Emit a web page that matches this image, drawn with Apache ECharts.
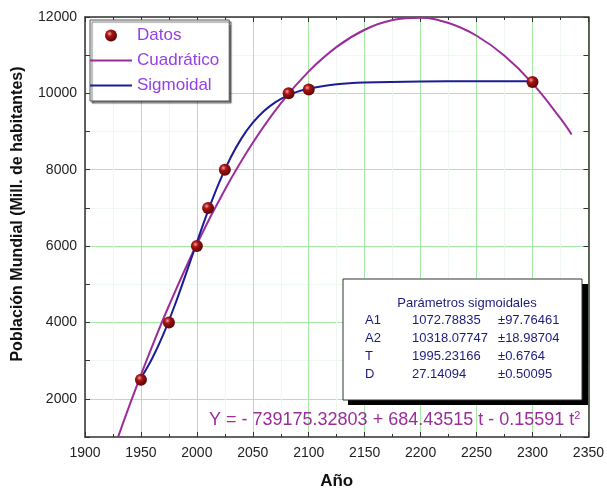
<!DOCTYPE html>
<html><head><meta charset="utf-8">
<script src="https://cdn.jsdelivr.net/npm/echarts@6/dist/echarts.min.js"></script>
<style>html,body{margin:0;padding:0;background:#fff}#c{width:607px;height:495px}</style>
</head><body><div id="c"></div>
<script>
// ---- data ----
const dataYears = [1950, 1975, 2000, 2010, 2025, 2082, 2100, 2300];
const dataPop   = [2500, 4000, 6000, 7000, 8000, 10000, 10100, 10300];

const quadYears = [1925, 1930, 1940, 1950, 1960, 1975, 2000, 2025, 2050, 2075, 2100, 2125, 2150, 2175, 2200, 2225, 2250, 2275, 2300, 2325, 2335];
const quadPop   = [618, 1035, 1846, 2625, 3374, 4438, 6055, 7477, 8705, 9738, 10575, 11218, 11666, 11919, 11978, 11841, 11509, 10983, 10262, 9345, 8924];

const sigYears = [1950, 1960, 1970, 1980, 1990, 2000, 2010, 2020, 2030, 2040, 2050, 2060, 2070, 2080, 2090, 2100, 2125, 2150, 2200, 2250, 2300];
const sigPop   = [2542, 3056, 3689, 4431, 5252, 6100, 6923, 7670, 8308, 8828, 9233, 9539, 9765, 9928, 10045, 10127, 10241, 10287, 10313, 10317, 10318];

const xTickLabels = [1900, 1950, 2000, 2050, 2100, 2150, 2200, 2250, 2300, 2350];
const yTickLabels = [2000, 4000, 6000, 8000, 10000, 12000];

const paramTitle  = 'Parámetros sigmoidales';
const paramNames  = ['A1', 'A2', 'T', 'D'];
const paramValues = ['1072.78835', '10318.07747', '1995.23166', '27.14094'];
const paramErrors = ['±97.76461', '±18.98704', '±0.6764', '±0.50095'];

const equationMain = 'Y = - 739175.32803 + 684.43515 t - 0.15591 t';
const equationSup = '2';

// ---- chart ----
const FONT = '"Liberation Sans", Arial, sans-serif';
const chart = echarts.init(document.getElementById('c'), null, {renderer: 'canvas'});

const sphere = new echarts.graphic.RadialGradient(0.38, 0.35, 0.75, [
  {offset: 0, color: '#f0a0a0'},
  {offset: 0.3, color: '#a81414'},
  {offset: 1, color: '#4a0000'}
]);

const paramGraphics = [
  {type: 'rect', shape: {x: 348, y: 284, width: 240, height: 121}, style: {fill: '#000'}, z: 100},
  {type: 'rect', shape: {x: 343, y: 279, width: 239, height: 121}, style: {fill: '#fff', stroke: '#333', lineWidth: 1}, z: 101},
  {type: 'text', x: 467, y: 303, z: 102, style: {text: paramTitle, fill: '#1c1c7c', font: '13px ' + FONT, align: 'center', verticalAlign: 'middle'}}
];
const rowY = [320, 338, 356, 374];
paramNames.forEach((n, i) => {
  paramGraphics.push({type: 'text', x: 365, y: rowY[i], z: 102, style: {text: n, fill: '#1c1c7c', font: '13px ' + FONT, verticalAlign: 'middle'}});
  paramGraphics.push({type: 'text', x: 412, y: rowY[i], z: 102, style: {text: paramValues[i], fill: '#1c1c7c', font: '13px ' + FONT, verticalAlign: 'middle'}});
  paramGraphics.push({type: 'text', x: 498, y: rowY[i], z: 102, style: {text: paramErrors[i], fill: '#1c1c7c', font: '13px ' + FONT, verticalAlign: 'middle'}});
});
paramGraphics.push({
  type: 'text', x: 209, y: 420, z: 102,
  style: {
    text: '{a|' + equationMain + '}{b|' + equationSup + '}',
    verticalAlign: 'middle',
    rich: {
      a: {fontSize: 18, fontFamily: FONT, fill: '#9b2d9b', color: '#9b2d9b', lineHeight: 20},
      b: {fontSize: 11, fontFamily: FONT, fill: '#9b2d9b', color: '#9b2d9b', verticalAlign: 'top', lineHeight: 20}
    }
  }
});

const axisLineStyle = {color: '#333', width: 1.5};

chart.setOption({
  animation: false,
  backgroundColor: '#fff',
  textStyle: {fontFamily: FONT},
  grid: {left: 85, right: 18, top: 17, bottom: 58, containLabel: false},
  legend: {
    orient: 'vertical', left: 90, top: 20,
    data: [
      {name: 'Datos', icon: 'circle'},
      {name: 'Cuadrático', icon: 'path://M0,0H60V3H0Z'},
      {name: 'Sigmoidal', icon: 'path://M0,0H60V3H0Z'}
    ],
    itemWidth: 42, itemHeight: 12, itemGap: 8,
    padding: [7, 10, 7, 0],
    backgroundColor: '#fff', borderColor: '#555', borderWidth: 1,
    shadowColor: 'rgba(0,0,0,0.55)', shadowOffsetX: 2, shadowOffsetY: 2, shadowBlur: 1,
    textStyle: {color: '#9440e8', fontSize: 17, fontFamily: FONT},
    selectedMode: false
  },
  xAxis: [{
    type: 'value', min: 1900, max: 2350, interval: 50, position: 'bottom',
    axisLine: {onZero: false, lineStyle: axisLineStyle},
    axisTick: {inside: true, length: 5, lineStyle: {color: '#333'}},
    minorTick: {show: true, splitNumber: 2, length: 3, lineStyle: {color: '#333'}},
    splitLine: {show: true, lineStyle: {color: '#a6eaa6', width: 1}},
    minorSplitLine: {show: true, lineStyle: {color: '#eef8ee', width: 1}},
    axisLabel: {fontSize: 14, color: '#222', margin: 9, fontFamily: FONT,
      formatter: v => xTickLabels.includes(v) ? String(v) : ''},
    name: 'Año', nameLocation: 'middle', nameGap: 36,
    nameTextStyle: {fontWeight: 'bold', fontSize: 17, color: '#111', fontFamily: FONT}
  }, {
    type: 'value', min: 1900, max: 2350, interval: 50, position: 'top',
    axisLine: {onZero: false, lineStyle: axisLineStyle},
    axisTick: {inside: true, length: 5, lineStyle: {color: '#333'}},
    minorTick: {show: true, splitNumber: 2, length: 3, lineStyle: {color: '#333'}},
    splitLine: {show: false}, axisLabel: {show: false}
  }],
  yAxis: [{
    type: 'value', min: 1000, max: 12000, interval: 1000, position: 'left',
    axisLine: {onZero: false, lineStyle: axisLineStyle},
    axisTick: {inside: true, length: 5, lineStyle: {color: '#333'}},
    splitLine: {show: true, lineStyle: {color: ['#eef8ee', '#a6eaa6'], width: 1}},
    axisLabel: {fontSize: 14, color: '#222', margin: 8, fontFamily: FONT,
      formatter: v => yTickLabels.includes(v) ? String(v) : ''},
    name: 'Población Mundial (Mill. de habitantes)', nameLocation: 'middle', nameGap: 59,
    nameTextStyle: {fontWeight: 'bold', fontSize: 16, color: '#111', fontFamily: FONT, padding: [0, 0, 0, 26]}
  }, {
    type: 'value', min: 1000, max: 12000, interval: 1000, position: 'right',
    axisLine: {onZero: false, lineStyle: axisLineStyle},
    axisTick: {inside: true, length: 5, lineStyle: {color: '#333'}},
    splitLine: {show: false}, axisLabel: {show: false}
  }],
  series: [{
    name: 'Cuadrático', type: 'line', xAxisIndex: 0, yAxisIndex: 0,
    data: quadYears.map((y, i) => [y, quadPop[i]]),
    smooth: 0.4, showSymbol: false, symbol: 'none', clip: true,
    lineStyle: {color: '#9b2d9b', width: 2}, itemStyle: {color: '#9b2d9b'}, z: 3
  }, {
    name: 'Sigmoidal', type: 'line', xAxisIndex: 0, yAxisIndex: 0,
    data: sigYears.map((y, i) => [y, sigPop[i]]),
    smooth: 0.4, showSymbol: false, symbol: 'none', clip: true,
    lineStyle: {color: '#1c1c96', width: 2}, itemStyle: {color: '#1c1c96'}, z: 4
  }, {
    name: 'Datos', type: 'scatter', xAxisIndex: 0, yAxisIndex: 0,
    data: dataYears.map((y, i) => [y, dataPop[i]]),
    symbol: 'circle', symbolSize: 12,
    itemStyle: {color: sphere, opacity: 1}, z: 5
  }],
  graphic: paramGraphics
});
</script>
</body></html>
